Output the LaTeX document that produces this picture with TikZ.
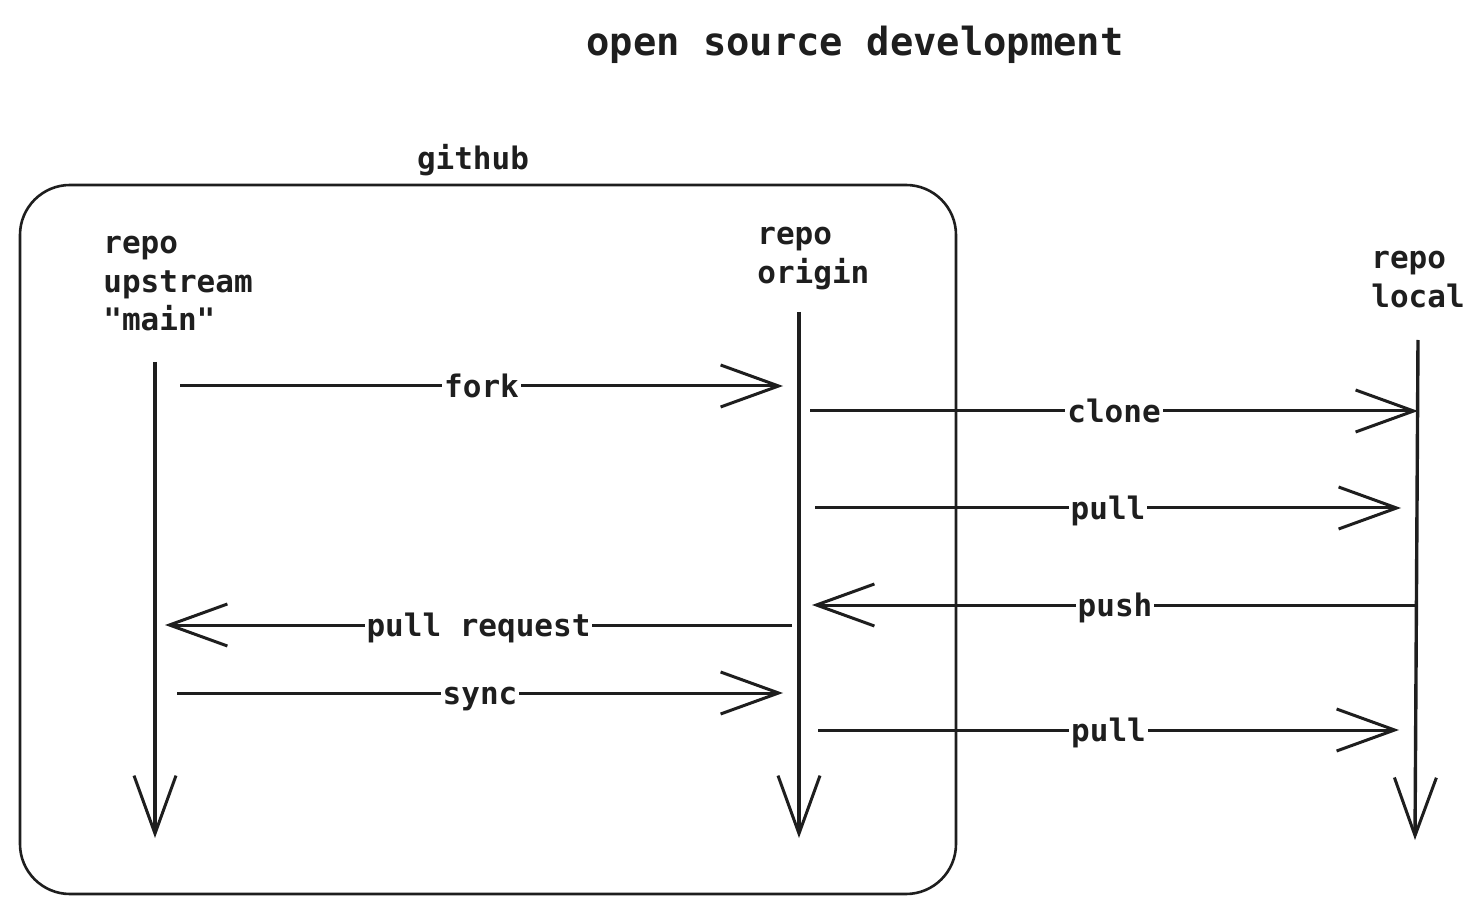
\documentclass[tikz,border=0pt]{standalone}
\usepackage{fontspec}
\setmonofont{DejaVu Sans Mono}
\usetikzlibrary{arrows.meta}
\definecolor{ink}{HTML}{1E1E1E}
\begin{document}
\begin{tikzpicture}[x=0.5pt,y=-0.5pt,
  every node/.style={font=\ttfamily\bfseries\fontsize{15.5}{19.25}\selectfont, text=ink},
  barb/.style={-{Straight Barb[length=29pt,width=21pt,line width=1.5pt]}},
  life/.style={draw=ink, line width=1.7pt, barb},
  msg/.style={draw=ink, line width=1.5pt, barb},
  lbl/.style={fill=white, inner sep=1pt, midway, anchor=base, yshift=-5.6pt, text height=11pt, text depth=3.5pt},
  repolbl/.style={anchor=north west, align=left, inner sep=0pt}]
\useasboundingbox (0,0) rectangle (1484,914);
\node (title) at (855,45) [font=\ttfamily\bfseries\fontsize{19.4}{24}\selectfont] {open source development};
\draw[ink, line width=1.3pt, rounded corners=25pt] (20,185) rectangle (956,894);
\node (gh) at (473,160) {github};
\node[repolbl] (up) at (103,236) {repo\\upstream\\"main"};
\node[repolbl] (or) at (757,227) {repo\\origin};
\node[repolbl] (lo) at (1371,251) {repo\\local};
% lifelines
\coordinate (u1) at (155,362); \coordinate (u2) at (155,838);
\coordinate (o1) at (799,312); \coordinate (o2) at (799,838);
\coordinate (l1) at (1418,340); \coordinate (l2) at (1415,840);
\draw[life] (u1) -- (u2);
\draw[life] (o1) -- (o2);
\draw[life] (l1) -- (l2);
% messages
\coordinate (fa) at (180,386); \coordinate (fb) at (783,386);
\coordinate (ca) at (810,411); \coordinate (cb) at (1418,411);
\coordinate (pa) at (815,508); \coordinate (pb) at (1401,508);
\coordinate (sa) at (1418,605); \coordinate (sb) at (812,605);
\coordinate (ra) at (792,625); \coordinate (rb) at (165,625);
\coordinate (ya) at (177,693); \coordinate (yb) at (783,693);
\coordinate (qa) at (818,730); \coordinate (qb) at (1399,730);
\draw[msg] (fa) -- node[lbl] (fork) {fork} (fb);
\draw[msg] (ca) -- node[lbl] (clone) {clone} (cb);
\draw[msg] (pa) -- node[lbl] (pull1) {pull} (pb);
\draw[msg] (sa) -- node[lbl] (push) {push} (sb);
\draw[msg] (ra) -- node[lbl] (pr) {pull request} (rb);
\draw[msg] (ya) -- node[lbl] (sync) {sync} (yb);
\draw[msg] (qa) -- node[lbl] (pull2) {pull} (qb);
\end{tikzpicture}
\end{document}
